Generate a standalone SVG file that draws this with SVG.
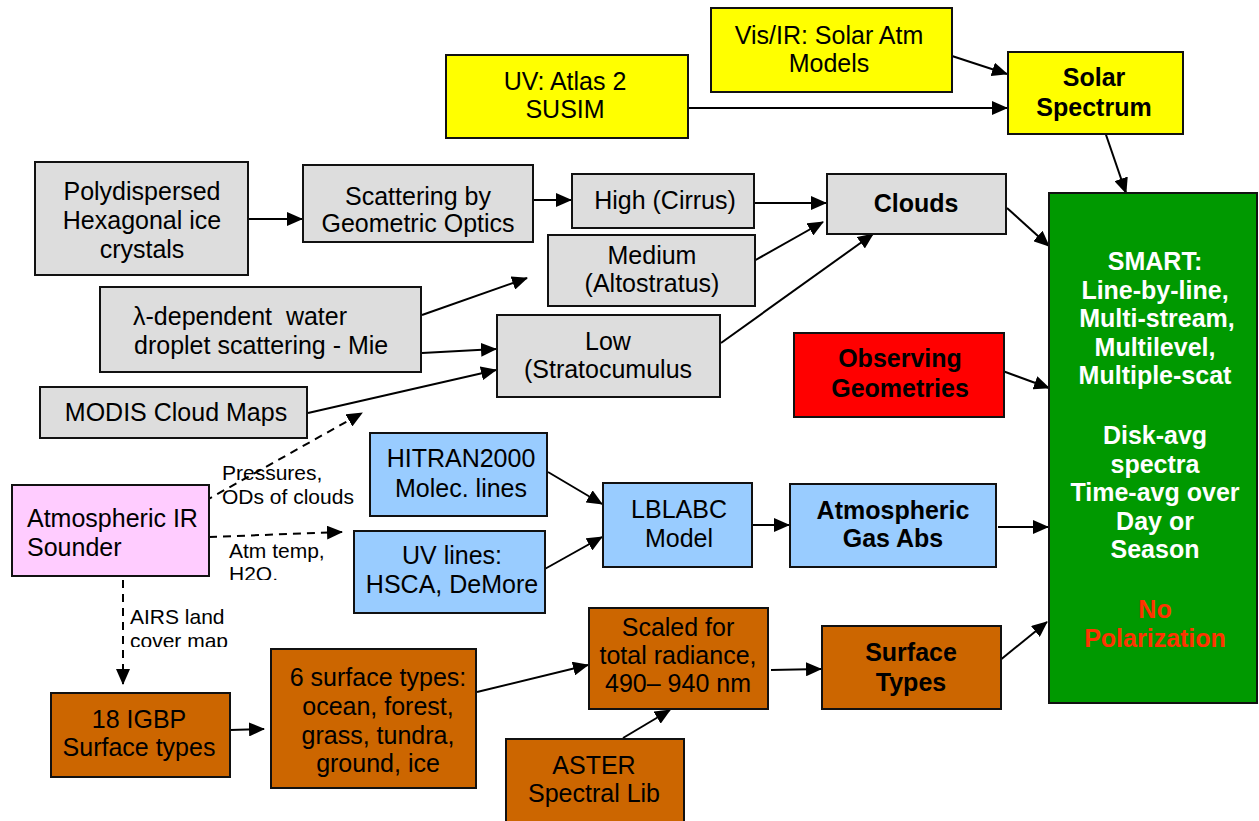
<svg xmlns="http://www.w3.org/2000/svg" width="1259" height="821" viewBox="0 0 1259 821">
  <style>
    .box { stroke: #111; stroke-width: 2; }
    .gray { fill: #dddddd; }
    .yellow { fill: #ffff00; }
    .blue { fill: #99ccff; }
    .pink { fill: #ffccff; }
    .orange { fill: #cc6600; }
    .green { fill: #009900; }
    .red { fill: #ff0000; }
    text { font-family: "Liberation Sans", Arial, sans-serif; font-size: 25px; fill: #000; }
    .c { text-anchor: middle; }
    .b { font-weight: bold; }
    .w { fill: #ffffff; }
    .np { fill: #ff3300; }
    .pre { white-space: pre; }
    .lbl { font-size: 21px; }
    .conn { stroke: #000; stroke-width: 2; fill: none; marker-end: url(#arrow); }
    .dash { stroke-dasharray: 8 6; }
  </style>
  <defs>
    <marker id="arrow" markerUnits="userSpaceOnUse" markerWidth="16" markerHeight="14" refX="15" refY="7" orient="auto">
      <path d="M0,0 L16,7 L0,14 z" fill="#000"/>
    </marker>
    <clipPath id="clipH2O"><rect x="220" y="560" width="120" height="20"/></clipPath>
    <clipPath id="clipCover"><rect x="125" y="628" width="120" height="19"/></clipPath>
  </defs>

  <rect width="1259" height="821" fill="#ffffff"/>

  <!-- connectors -->
  <g id="connectors">
    <line class="conn" x1="952" y1="56" x2="1007" y2="74"/>
    <line class="conn" x1="688" y1="108" x2="1007" y2="108"/>
    <line class="conn" x1="1104" y1="129" x2="1126" y2="193"/>
    <line class="conn" x1="249" y1="219" x2="302" y2="219"/>
    <line class="conn" x1="533" y1="200" x2="571" y2="200"/>
    <line class="conn" x1="754" y1="203" x2="826" y2="203"/>
    <line class="conn" x1="752" y1="262" x2="823" y2="222"/>
    <line class="conn" x1="721" y1="343" x2="873" y2="234"/>
    <line class="conn" x1="1007" y1="208" x2="1049" y2="246"/>
    <line class="conn" x1="422" y1="315" x2="527" y2="278"/>
    <line class="conn" x1="422" y1="353" x2="496" y2="349"/>
    <line class="conn" x1="308" y1="413" x2="496" y2="370"/>
    <line class="conn dash" x1="205" y1="501" x2="362" y2="413"/>
    <line class="conn dash" x1="209" y1="537" x2="342" y2="532"/>
    <line class="conn dash" x1="123" y1="580" x2="123" y2="684"/>
    <line class="conn" x1="548" y1="472" x2="602" y2="504"/>
    <line class="conn" x1="543" y1="570" x2="602" y2="537"/>
    <line class="conn" x1="752" y1="525" x2="789" y2="525"/>
    <line class="conn" x1="998" y1="527" x2="1048" y2="527"/>
    <line class="conn" x1="1000" y1="370" x2="1049" y2="388"/>
    <line class="conn" x1="999" y1="661" x2="1047" y2="622"/>
    <line class="conn" x1="230" y1="730" x2="264" y2="729"/>
    <line class="conn" x1="477" y1="692" x2="588" y2="665"/>
    <line class="conn" x1="623" y1="738" x2="670" y2="710"/>
    <line class="conn" x1="771" y1="670" x2="821" y2="669"/>
  </g>

  <!-- edge labels -->
  <g id="edge-labels">
    <text class="lbl" x="222" y="480">Pressures,</text>
    <text class="lbl" x="222" y="504">ODs of clouds</text>
    <text class="lbl" x="229" y="558">Atm temp,</text>
    <text class="lbl" x="229" y="581" clip-path="url(#clipH2O)">H2O,</text>
    <text class="lbl" x="130" y="624">AIRS land</text>
    <text class="lbl" x="130" y="648" clip-path="url(#clipCover)">cover map</text>
  </g>

  <g id="vis-ir">
    <rect class="box yellow" x="711" y="8" width="241" height="84"/>
    <text class="c" x="829" y="44">Vis/IR: Solar Atm</text>
    <text class="c" x="829" y="72">Models</text>
  </g>
  <g id="uv-atlas">
    <rect class="box yellow" x="446" y="55" width="242" height="83"/>
    <text class="c" x="565" y="90">UV: Atlas 2</text>
    <text class="c" x="565" y="118">SUSIM</text>
  </g>
  <g id="solar-spectrum">
    <rect class="box yellow" x="1008" y="52" width="175" height="82"/>
    <text class="c b" x="1094" y="86">Solar</text>
    <text class="c b" x="1094" y="116">Spectrum</text>
  </g>
  <g id="smart">
    <rect class="box green" x="1049" y="193" width="208" height="510"/>
    <text class="c b w" x="1155" y="270">SMART:</text>
    <text class="c b w" x="1155" y="299">Line-by-line,</text>
    <text class="c b w" x="1157" y="327">Multi-stream,</text>
    <text class="c b w" x="1155" y="356">Multilevel,</text>
    <text class="c b w" x="1155" y="384">Multiple-scat</text>
    <text class="c b w" x="1155" y="444">Disk-avg</text>
    <text class="c b w" x="1155" y="473">spectra</text>
    <text class="c b w" x="1155" y="501">Time-avg over</text>
    <text class="c b w" x="1155" y="530">Day or</text>
    <text class="c b w" x="1155" y="558">Season</text>
    <text class="c b np" x="1155" y="618">No</text>
    <text class="c b np" x="1155" y="647">Polarization</text>
  </g>
  <g id="polydispersed">
    <rect class="box gray" x="35" y="162" width="213" height="113"/>
    <text class="c" x="142" y="200">Polydispersed</text>
    <text class="c" x="142" y="229">Hexagonal ice</text>
    <text class="c" x="142" y="258">crystals</text>
  </g>
  <g id="geometric-optics">
    <rect class="box gray" x="303" y="165" width="230" height="77"/>
    <text class="c" x="418" y="205">Scattering by</text>
    <text class="c" x="418" y="232">Geometric Optics</text>
  </g>
  <g id="high">
    <rect class="box gray" x="572" y="174" width="182" height="54"/>
    <text class="c" x="665" y="209">High (Cirrus)</text>
  </g>
  <g id="clouds">
    <rect class="box gray" x="827" y="174" width="179" height="60"/>
    <text class="c b" x="916" y="212">Clouds</text>
  </g>
  <g id="medium">
    <rect class="box gray" x="548" y="235" width="207" height="71"/>
    <text class="c" x="652" y="264">Medium</text>
    <text class="c" x="652" y="292">(Altostratus)</text>
  </g>
  <g id="mie">
    <rect class="box gray" x="100" y="287" width="321" height="85"/>
    <text class="pre" x="133" y="325" xml:space="preserve">λ-dependent  water</text>
    <text x="134" y="354">droplet scattering - Mie</text>
  </g>
  <g id="low">
    <rect class="box gray" x="497" y="315" width="223" height="82"/>
    <text class="c" x="608" y="350">Low</text>
    <text class="c" x="608" y="378">(Stratocumulus</text>
  </g>
  <g id="modis">
    <rect class="box gray" x="40" y="387" width="267" height="51"/>
    <text class="c" x="176" y="421">MODIS Cloud Maps</text>
  </g>
  <g id="observing">
    <rect class="box red" x="794" y="333" width="210" height="84"/>
    <text class="c b" x="900" y="367">Observing</text>
    <text class="c b" x="900" y="397">Geometries</text>
  </g>
  <g id="hitran">
    <rect class="box blue" x="370" y="433" width="177" height="83"/>
    <text class="c" x="461" y="467">HITRAN2000</text>
    <text class="c" x="461" y="497">Molec. lines</text>
  </g>
  <g id="uv-lines">
    <rect class="box blue" x="354" y="531" width="191" height="82"/>
    <text class="c" x="452" y="564">UV lines:</text>
    <text class="c" x="452" y="593">HSCA, DeMore</text>
  </g>
  <g id="lblabc">
    <rect class="box blue" x="603" y="483" width="149" height="84"/>
    <text class="c" x="679" y="518">LBLABC</text>
    <text class="c" x="679" y="547">Model</text>
  </g>
  <g id="gas-abs">
    <rect class="box blue" x="790" y="484" width="206" height="83"/>
    <text class="c b" x="893" y="519">Atmospheric</text>
    <text class="c b" x="893" y="547">Gas Abs</text>
  </g>
  <g id="ir-sounder">
    <rect class="box pink" x="12" y="485" width="197" height="91"/>
    <text x="27" y="527">Atmospheric IR</text>
    <text x="27" y="556">Sounder</text>
  </g>
  <g id="igbp">
    <rect class="box orange" x="51" y="693" width="179" height="84"/>
    <text class="c" x="139" y="728">18 IGBP</text>
    <text class="c" x="139" y="756">Surface types</text>
  </g>
  <g id="six-surface">
    <rect class="box orange" x="271" y="649" width="205" height="139"/>
    <text class="c" x="378" y="686">6 surface types:</text>
    <text class="c" x="378" y="715">ocean, forest,</text>
    <text class="c" x="378" y="744">grass, tundra,</text>
    <text class="c" x="378" y="772">ground, ice</text>
  </g>
  <g id="scaled">
    <rect class="box orange" x="589" y="608" width="179" height="101"/>
    <text class="c" x="678" y="636">Scaled for</text>
    <text class="c" x="678" y="664">total radiance,</text>
    <text class="c" x="678" y="692">490– 940 nm</text>
  </g>
  <g id="surface-types">
    <rect class="box orange" x="822" y="626" width="179" height="83"/>
    <text class="c b" x="911" y="661">Surface</text>
    <text class="c b" x="911" y="691">Types</text>
  </g>
  <g id="aster">
    <rect class="box orange" x="506" y="739" width="178" height="95"/>
    <text class="c" x="594" y="774">ASTER</text>
    <text class="c" x="594" y="802">Spectral Lib</text>
  </g>
</svg>
